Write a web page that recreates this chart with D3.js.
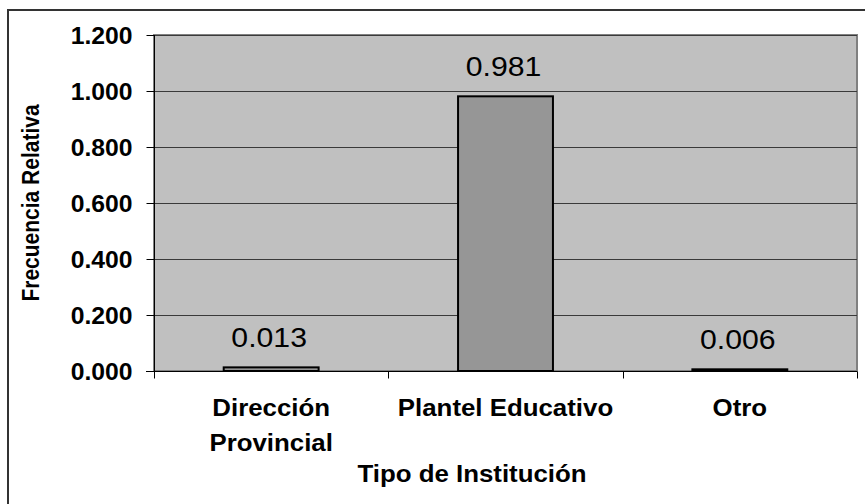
<!DOCTYPE html>
<html>
<head>
<meta charset="utf-8">
<script src="https://cdn.jsdelivr.net/npm/d3@7"></script>
<style>
  html, body { margin: 0; padding: 0; background: #fff; }
  svg { display: block; font-family: Arial, "Liberation Sans", sans-serif; }
</style>
</head>
<body>
<div id="chart"></div>
<script>
// data
var categories = ["Dirección Provincial", "Plantel Educativo", "Otro"];
var catLines = [["Dirección", "Provincial"], ["Plantel Educativo"], ["Otro"]];
var values = [0.013, 0.981, 0.006];
var yTicks = [0, 0.2, 0.4, 0.6, 0.8, 1.0, 1.2];

var width = 865, height = 504;
var plot = {left: 154, top: 35, right: 857, bottom: 371};

var svg = d3.select("#chart").append("svg")
    .attr("width", width)
    .attr("height", height);

// outer chart border (runs off the right/bottom edge)
svg.append("rect")
    .attr("x", 8).attr("y", 10)
    .attr("width", 1000).attr("height", 800)
    .attr("fill", "#fff")
    .attr("stroke", "#333").attr("stroke-width", 2);

var x = d3.scaleBand()
    .domain(categories)
    .range([plot.left, plot.right])
    .paddingInner(0).paddingOuter(0);

var y = d3.scaleLinear()
    .domain([0, 1.2])
    .range([plot.bottom, plot.top]);

// plot area
svg.append("rect")
    .attr("x", plot.left).attr("y", plot.top)
    .attr("width", plot.right - plot.left)
    .attr("height", plot.bottom - plot.top)
    .attr("fill", "#c0c0c0")
    .attr("stroke", "#808080").attr("stroke-width", 2);

// gridlines
svg.append("g").selectAll("line")
    .data(yTicks.filter(function(d) { return d > 0; }))
    .join("line")
    .attr("x1", plot.left).attr("x2", plot.right)
    .attr("y1", function(d) { return Math.round(y(d)) + 0.5; })
    .attr("y2", function(d) { return Math.round(y(d)) + 0.5; })
    .attr("stroke", "#3a3a3a").attr("stroke-width", 1);

// bars
var bw = x.bandwidth() * 0.405;
svg.append("g").selectAll("rect")
    .data(values)
    .join("rect")
    .attr("x", function(d, i) { return x(categories[i]) + (x.bandwidth() - bw) / 2; })
    .attr("y", function(d) { return y(d); })
    .attr("width", bw)
    .attr("height", function(d) { return y(0) - y(d); })
    .attr("fill", "#969696")
    .attr("stroke", "#000").attr("stroke-width", 2);

// y axis
var yAxis = svg.append("g")
    .attr("transform", "translate(" + (plot.left + 0.5) + ",0)")
    .call(d3.axisLeft(y).tickValues(yTicks).tickSize(8).tickPadding(0).tickFormat(d3.format(".3f")));
yAxis.select(".domain").attr("stroke", "#000").attr("d", "M0," + plot.top + "V" + (plot.bottom + 7));
yAxis.selectAll(".tick line").attr("stroke", "#000");
yAxis.selectAll(".tick text").remove();
yAxis.selectAll(".tick").append("text")
    .attr("transform", "translate(-22,8.5) scale(1.03,1)")
    .attr("text-anchor", "end")
    .attr("font-size", 24).attr("font-weight", "bold")
    .attr("fill", "#000")
    .text(function(d) { return d3.format(".3f")(d); });

// x axis
var xAxis = svg.append("g")
    .attr("transform", "translate(0," + (plot.bottom + 0.5) + ")");
xAxis.append("line")
    .attr("x1", plot.left - 8).attr("x2", plot.right)
    .attr("stroke", "#000");
xAxis.selectAll("line.tk")
    .data(categories.map(function(c) { return x(c); }).concat([plot.right]))
    .join("line").attr("class", "tk")
    .attr("x1", function(d) { return Math.round(d) + 0.5; })
    .attr("x2", function(d) { return Math.round(d) + 0.5; })
    .attr("y1", 0).attr("y2", 7)
    .attr("stroke", "#000");

// category labels
catLines.forEach(function(lines, i) {
    var cx = x(categories[i]) + x.bandwidth() / 2;
    lines.forEach(function(t, j) {
        svg.append("text")
            .attr("transform", "translate(" + cx + "," + (416 + j * 35) + ") scale(1.1,1)")
            .attr("text-anchor", "middle")
            .attr("font-size", 23.5).attr("font-weight", "bold")
            .attr("fill", "#000")
            .text(t);
    });
});

// value labels
svg.append("g").selectAll("text")
    .data(values)
    .join("text")
    .attr("transform", function(d, i) {
        return "translate(" + (x(categories[i]) + x.bandwidth() / 2 - 2) + "," + (y(d) - 20) + ") scale(1.12,1)";
    })
    .attr("text-anchor", "middle")
    .attr("font-size", 27)
    .attr("fill", "#000")
    .text(function(d) { return d3.format(".3f")(d); });

// axis titles
svg.append("text")
    .attr("transform", "translate(472,482) scale(1.1,1)")
    .attr("text-anchor", "middle")
    .attr("font-size", 23.5).attr("font-weight", "bold")
    .text("Tipo de Institución");

svg.append("text")
    .attr("transform", "translate(38.5," + ((plot.top + plot.bottom) / 2) + ") scale(1.1,1) rotate(-90)")
    .attr("text-anchor", "middle")
    .attr("font-size", 21).attr("font-weight", "bold")
    .text("Frecuencia Relativa");
</script>
</body>
</html>
